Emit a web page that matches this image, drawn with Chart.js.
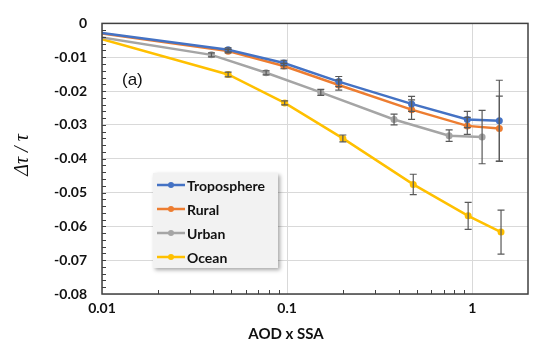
<!DOCTYPE html>
<html>
<head>
<meta charset="utf-8">
<script src="https://cdn.jsdelivr.net/npm/chart.js@4"></script>
<style>
  html, body { margin: 0; padding: 0; background: #fff; }
  #wrap { width: 537px; height: 345px; position: relative; }
</style>
</head>
<body>
<div id="wrap"><canvas id="chart"></canvas></div>
<script>
// values (x = AOD x SSA, y = delta tau / tau)
const tropoX = [0.01, 0.048, 0.096, 0.19, 0.47, 0.94, 1.4];
const tropoY = [-0.0028, -0.0078, -0.0117, -0.0172, -0.0238, -0.0284, -0.0288];
const tropoErr = [0, 0.0006, 0.0008, 0.0015, 0.0022, 0.0024, 0.012];

const ruralX = [0.01, 0.048, 0.096, 0.19, 0.47, 0.94, 1.4];
const ruralY = [-0.003, -0.0082, -0.0126, -0.0182, -0.0255, -0.0303, -0.0311];
const ruralErr = [0, 0.0005, 0.0008, 0.0015, 0.0029, 0.0025, 0.0096];

const urbanX = [0.01, 0.039, 0.077, 0.152, 0.378, 0.75, 1.13];
const urbanY = [-0.0042, -0.0093, -0.0146, -0.0204, -0.0284, -0.0332, -0.0336];
const urbanErr = [0, 0.0006, 0.0006, 0.0009, 0.0016, 0.0017, 0.0079];

const oceanX = [0.01, 0.048, 0.097, 0.2, 0.48, 0.95, 1.43];
const oceanY = [-0.0047, -0.0151, -0.0235, -0.034, -0.0476, -0.0569, -0.0617];
const oceanErr = [0, 0.0007, 0.0006, 0.001, 0.003, 0.004, 0.0065];

const seriesNames = ['Troposphere', 'Rural', 'Urban', 'Ocean'];
const seriesColors = ['#4472C4', '#ED7D31', '#A5A5A5', '#FFC000'];

const xMajors = [0.01, 0.1, 1];
const yTickLabels = ['0', '-0.01', '-0.02', '-0.03', '-0.04', '-0.05', '-0.06', '-0.07', '-0.08'];

const xs = [tropoX, ruralX, urbanX, oceanX];
const ys = [tropoY, ruralY, urbanY, oceanY];
const errs = [tropoErr, ruralErr, urbanErr, oceanErr];

function isMajor(v) {
  const l = Math.log10(v);
  return Math.abs(l - Math.round(l)) < 1e-6;
}

const datasets = seriesNames.map((name, i) => ({
  label: name,
  data: xs[i].map((x, j) => ({ x: x, y: ys[i][j] })),
  errors: errs[i],
  showLine: true,
  borderColor: seriesColors[i],
  backgroundColor: seriesColors[i],
  borderWidth: 2.5,
  pointRadius: ctx => ctx.dataIndex === 0 ? 0 : 3.5,
  pointBorderWidth: 0,
  tension: 0
}));

const labelFont = { family: 'Lato', size: 14, weight: 'bold' };

const extras = {
  id: 'extras',
  afterDatasetsDraw(chart) {
    const ctx = chart.ctx;
    const xS = chart.scales.x, yS = chart.scales.y;
    ctx.save();
    ctx.strokeStyle = '#595959';
    ctx.lineWidth = 1.2;
    chart.data.datasets.forEach(ds => {
      ds.data.forEach((p, j) => {
        const e = ds.errors[j];
        if (!e) return;
        const px = xS.getPixelForValue(p.x);
        const top = yS.getPixelForValue(p.y + e);
        const bot = yS.getPixelForValue(p.y - e);
        ctx.beginPath();
        ctx.moveTo(px, top); ctx.lineTo(px, bot);
        ctx.moveTo(px - 3.5, top); ctx.lineTo(px + 3.5, top);
        ctx.moveTo(px - 3.5, bot); ctx.lineTo(px + 3.5, bot);
        ctx.stroke();
      });
    });
    ctx.restore();
  },
  afterDraw(chart) {
    const ctx = chart.ctx;
    const a = chart.chartArea;
    const xS = chart.scales.x, yS = chart.scales.y;
    ctx.save();

    // frame
    ctx.strokeStyle = '#404040';
    ctx.lineWidth = 1.5;
    ctx.strokeRect(a.left, a.top, a.right - a.left, a.bottom - a.top);

    // minor ticks, pointing inside
    ctx.lineWidth = 1;
    ctx.beginPath();
    for (let d = 0.01; d < 2; d *= 10) {
      for (let k = 2; k <= 9; k++) {
        const v = d * k;
        if (v >= 2) break;
        const px = Math.round(xS.getPixelForValue(v)) + 0.5;
        ctx.moveTo(px, a.bottom); ctx.lineTo(px, a.bottom - 4);
      }
    }
    for (let v = 0; v >= -0.08; v -= 0.002) {
      const py = Math.round(yS.getPixelForValue(v)) + 0.5;
      ctx.moveTo(a.left, py); ctx.lineTo(a.left + 4, py);
    }
    ctx.stroke();

    // "(a)" label
    ctx.fillStyle = '#111';
    ctx.font = '17px "Liberation Sans"';
    ctx.textBaseline = 'middle';
    ctx.textAlign = 'left';
    ctx.fillText('(a)', 122, 80);

    // axis titles
    ctx.font = 'bold 15px Lato';
    ctx.textAlign = 'center';
    ctx.fillStyle = '#111';
    ctx.fillText('AOD x SSA', 286, 334);

    ctx.translate(23, 155);
    ctx.rotate(-Math.PI / 2);
    ctx.font = 'italic 20px "Liberation Serif"';
    ctx.fillText('\u0394\u03C4 / \u03C4', 0, 0);
    ctx.setTransform(1, 0, 0, 1, 0, 0);

    // legend box
    ctx.shadowColor = 'rgba(0,0,0,0.35)';
    ctx.shadowBlur = 4;
    ctx.shadowOffsetX = 2;
    ctx.shadowOffsetY = 2;
    ctx.fillStyle = '#f2f2f2';
    ctx.fillRect(153, 173, 125, 95);
    ctx.shadowColor = 'transparent';
    ctx.font = 'bold 14px Lato';
    ctx.textAlign = 'left';
    seriesNames.forEach((name, i) => {
      const y = 185 + i * 24;
      ctx.strokeStyle = seriesColors[i];
      ctx.lineWidth = 2.5;
      ctx.beginPath();
      ctx.moveTo(157, y); ctx.lineTo(185, y);
      ctx.stroke();
      ctx.fillStyle = seriesColors[i];
      ctx.beginPath();
      ctx.arc(171, y, 3, 0, Math.PI * 2);
      ctx.fill();
      ctx.fillStyle = '#111';
      ctx.fillText(name, 187, y + 1);
    });
    ctx.restore();
  }
};

new Chart(document.getElementById('chart'), {
  type: 'scatter',
  data: { datasets: datasets },
  plugins: [extras],
  options: {
    responsive: true,
    maintainAspectRatio: false,
    animation: false,
    layout: { padding: { top: 19, right: 9, left: 0, bottom: 0 } },
    plugins: { legend: { display: false }, tooltip: { enabled: false } },
    scales: {
      x: {
        type: 'logarithmic',
        min: 0.01,
        max: 2,
        afterBuildTicks: s => { s.ticks = xMajors.map(v => ({ value: v })); },
        afterFit: s => { s.height = 51; },
        grid: { color: '#d9d9d9', drawTicks: false, lineWidth: 1 },
        border: { display: false },
        ticks: {
          autoSkip: false,
          maxRotation: 0,
          padding: 6,
          color: '#111',
          font: labelFont,
          callback: v => isMajor(v) ? String(v) : ''
        }
      },
      y: {
        min: -0.08,
        max: 0,
        afterBuildTicks: s => { s.ticks = yTickLabels.map(t => ({ value: parseFloat(t) })); },
        afterFit: s => { s.width = 102; },
        grid: { color: '#d9d9d9', drawTicks: false, lineWidth: 1 },
        border: { display: false },
        ticks: {
          padding: 15,
          color: '#111',
          font: labelFont,
          callback: (v, i) => yTickLabels[i]
        }
      }
    }
  }
});
</script>
</body>
</html>
